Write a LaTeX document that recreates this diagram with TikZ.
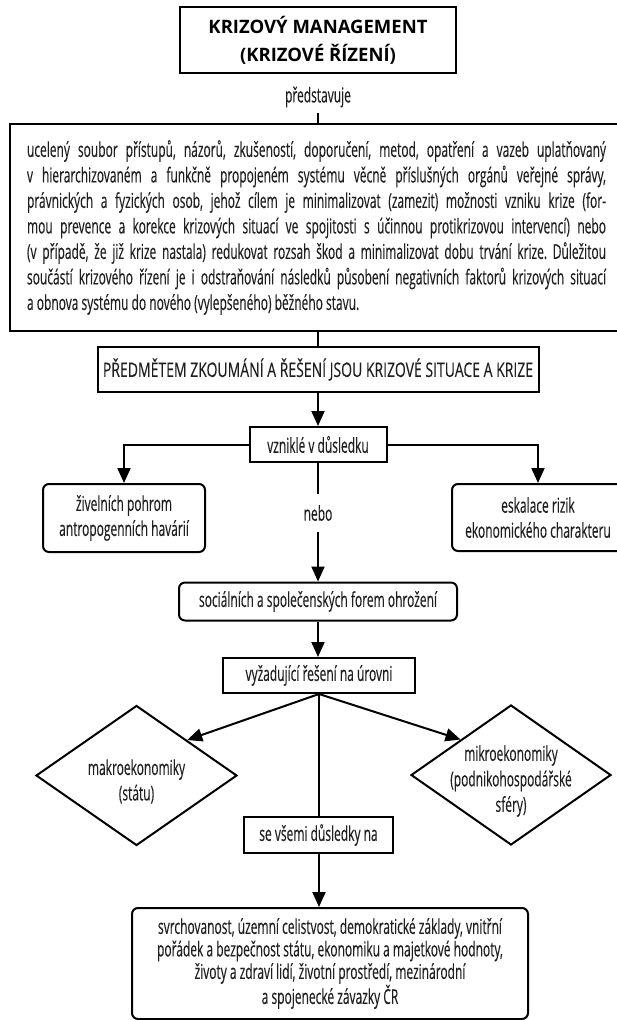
\documentclass[tikz,border=0pt]{standalone}
\usepackage{fontspec}
\setmainfont{Open Sans}[FakeStretch=0.585,FakeBold=0.2]
\newfontfamily\titlefont{Open Sans}
\newfontfamily\capsfont{Open Sans}[FakeStretch=0.70,FakeBold=0.2]
\usetikzlibrary{shapes.geometric,arrows.meta}
\newcommand\jline[1]{\hbox to 579pt{#1}}
\begin{document}
\frenchspacing
\begin{tikzpicture}[x=1pt,y=-1pt,
  every node/.style={font=\fontsize{20.5}{22.5}\selectfont, inner sep=0pt, text=black!88},
  box/.style={draw=black, line width=2pt, align=center},
  rbox/.style={box, rounded corners=6pt},
  dia/.style={draw=black, diamond, line width=2pt, inner sep=0pt},
  dtxt/.style={font=\fontsize{20.5}{25.5}\selectfont, align=center, yshift=-6pt},
  arr/.style={line width=2pt, -{Triangle[width=13pt,length=15pt]}},
  ln/.style={line width=2pt},
]
\useasboundingbox (0,0) rectangle (617,1020);
\fill[white] (0,0) rectangle (617,1020);

\node[box, line width=2.3pt, minimum width=276pt, minimum height=66pt, text=black,
  font=\titlefont\bfseries\fontsize{18.5}{28}\selectfont] (title) at (318,40)
  {KRIZOVÝ MANAGEMENT\\(KRIZOVÉ ŘÍZENÍ)};
\node[minimum height=32pt] (repr) at (318,97) {představuje};
\node[box, minimum width=613pt, minimum height=207pt] (big) at (316.5,227.5)
 {\vbox{\hsize=579pt \fontsize{20.5}{25.5}\selectfont
 \jline{ucelený soubor přístupů, názorů, zkušeností, doporučení, metod, opatření a vazeb uplatňovaný}
 \jline{v hierarchizovaném a funkčně propojeném systému věcně příslušných orgánů veřejné správy,}
 \jline{právnických a fyzických osob, jehož cílem je minimalizovat (zamezit) možnosti vzniku krize (for-}
 \jline{mou prevence a korekce krizových situací ve spojitosti s účinnou protikrizovou intervencí) nebo}
 \jline{(v případě, že již krize nastala) redukovat rozsah škod a minimalizovat dobu trvání krize. Důležitou}
 \jline{součástí krizového řízení je i odstraňování následků působení negativních faktorů krizových situací}
 \hbox{a obnova systému do nového (vylepšeného) běžného stavu.}}};
\node[box, minimum width=441pt, minimum height=45pt, font=\capsfont\fontsize{20}{22}\selectfont] (predmet) at (318,369.5)
  {PŘEDMĚTEM ZKOUMÁNÍ A ŘEŠENÍ JSOU KRIZOVÉ SITUACE A KRIZE};
\node[box, minimum width=137pt, minimum height=35pt] (vznik) at (318,444.5) {vzniklé v důsledku};
\node[rbox, minimum width=162pt, minimum height=68pt, font=\fontsize{20.5}{25}\selectfont] (zivel) at (124,518)
  {živelních pohrom\\antropogenních havárií};
\node[rbox, minimum width=172pt, minimum height=67pt, font=\fontsize{20.5}{25}\selectfont] (eskal) at (538,517.5)
  {eskalace rizik\\ekonomického charakteru};
\node[minimum height=38pt] (nebo) at (318,513) {nebo};
\node[rbox, minimum width=278pt, minimum height=38pt] (social) at (318,601.5)
  {sociálních a společenských forem ohrožení};
\node[box, minimum width=192pt, minimum height=35pt] (vyzad) at (319,675.5) {vyžadující řešení na úrovni};
\node[dia, minimum width=201pt, minimum height=140pt,
  label={[dtxt]center:makroekonomiky\\(státu)}] (makro) at (136.5,775.5) {};
\node[dia, minimum width=200pt, minimum height=140pt,
  label={[dtxt]center:mikroekonomiky\\(podnikohospodářské\\sféry)}] (mikro) at (511,775) {};
\node[box, minimum width=149pt, minimum height=36pt] (vsemi) at (318.5,835) {se všemi důsledky na};
\node[rbox, minimum width=396pt, minimum height=111pt] (bottom) at (330,963.5)
  {svrchovanost, územní celistvost, demokratické základy, vnitřní\\
   pořádek a bezpečnost státu, ekonomiku a majetkové hodnoty,\\
   životy a zdraví lidí, životní prostředí, mezinárodní\\
   a spojenecké závazky ČR};

\draw[ln] (repr.south) -- (repr.south |- big.north);
\draw[ln] (predmet.north |- big.south) -- (predmet.north);
\draw[arr] (predmet.south) -- (vznik.north);
\draw[arr] (vznik.west) -| (zivel.north);
\draw[arr] (vznik.east) -| (eskal.north);
\draw[ln] (vznik.south) -- (nebo.north);
\draw[arr] (nebo.south) -- (social.north);
\draw[arr] (social.south) -- (social.south |- vyzad.north);
\draw[arr] (vyzad.south) -- (makro.north east);
\draw[arr] (vyzad.south) -- (mikro.north west);
\draw[ln] (vyzad.south) -- (vyzad.south |- vsemi.north);
\draw[arr] (vyzad.south |- vsemi.south) -- (vyzad.south |- bottom.north);
\end{tikzpicture}
\end{document}
